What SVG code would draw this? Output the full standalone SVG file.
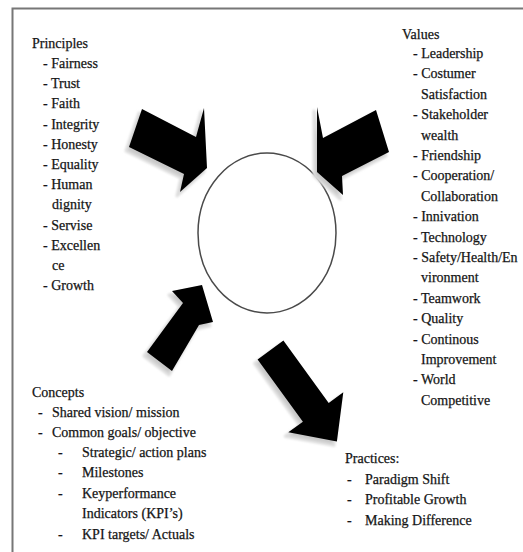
<svg xmlns="http://www.w3.org/2000/svg" width="523" height="552" viewBox="0 0 523 552">
<defs>
<style>
.t{font-family:"Liberation Serif","Times New Roman",serif;font-size:14px;fill:#151515;stroke:#151515;stroke-width:0.25}
.arrow{fill:#000}
.shadow{fill:#c9c9c9;stroke:#dedede;stroke-width:3;stroke-linejoin:round}
</style>
<filter id="soft" x="-20%" y="-20%" width="140%" height="140%"><feGaussianBlur stdDeviation="1.2"/></filter>
</defs>
<rect width="523" height="552" fill="#fff"/>
<path d="M12.5 560 V8.5 H530" fill="none" stroke="#777" stroke-width="2"/>

<g id="node-center">
<ellipse cx="267" cy="233" rx="69" ry="80" fill="#fff" stroke="#4a4a4a" stroke-width="1.5"/>
</g>

<g id="connectors">
<g id="arrow-principles">
<polygon class="shadow" filter="url(#soft)" transform="translate(-3,4)" points="142,109 196,137 204,108 207,168 180,192 184,174 129,147"/>
<polygon class="arrow" points="142,109 196,137 204,108 207,168 180,192 184,174 129,147"/>
</g>
<g id="arrow-values">
<polygon class="shadow" filter="url(#soft)" transform="translate(-3,4)" points="376,110 323,138 317,107 317,172 343,195 342,176 389,152"/>
<polygon class="arrow" points="376,110 323,138 317,107 317,172 343,195 342,176 389,152"/>
</g>
<g id="arrow-concepts">
<polygon class="shadow" filter="url(#soft)" transform="translate(-3,4)" points="147,352 183,303 172,291 202,285 213,322 199,325 172,371"/>
<polygon class="arrow" points="147,352 183,303 172,291 202,285 213,322 199,325 172,371"/>
</g>
<g id="arrow-practices">
<polygon class="shadow" filter="url(#soft)" transform="translate(-3,4)" points="283.4,340.6 328.7,402.9 343.3,392.3 336.9,441.4 288.3,432.3 302.9,421.7 257.6,359.4"/>
<polygon class="arrow" points="283.4,340.6 328.7,402.9 343.3,392.3 336.9,441.4 288.3,432.3 302.9,421.7 257.6,359.4"/>
</g>
</g>

<g id="node-principles">
<text class="t" x="32" y="48">Principles</text>
<text class="t" x="43" y="68">- Fairness</text>
<text class="t" x="43" y="88">- Trust</text>
<text class="t" x="43" y="108">- Faith</text>
<text class="t" x="43" y="129">- Integrity</text>
<text class="t" x="43" y="149">- Honesty</text>
<text class="t" x="43" y="169">- Equality</text>
<text class="t" x="43" y="189">- Human</text>
<text class="t" x="52" y="209">dignity</text>
<text class="t" x="43" y="230">- Servise</text>
<text class="t" x="43" y="250">- Excellen</text>
<text class="t" x="52" y="270">ce</text>
<text class="t" x="43" y="290">- Growth</text>
</g>

<g id="node-values">
<text class="t" x="402" y="39">Values</text>
<text class="t" x="413" y="58">- Leadership</text>
<text class="t" x="413" y="78.4">- Costumer</text>
<text class="t" x="421" y="98.8">Satisfaction</text>
<text class="t" x="413" y="119.2">- Stakeholder</text>
<text class="t" x="421" y="139.6">wealth</text>
<text class="t" x="413" y="160">- Friendship</text>
<text class="t" x="413" y="180.4">- Cooperation/</text>
<text class="t" x="421" y="200.8">Collaboration</text>
<text class="t" x="413" y="221.2">- Innivation</text>
<text class="t" x="413" y="241.6">- Technology</text>
<text class="t" x="413" y="262">- Safety/Health/En</text>
<text class="t" x="421" y="282.4">vironment</text>
<text class="t" x="413" y="302.8">- Teamwork</text>
<text class="t" x="413" y="323.2">- Quality</text>
<text class="t" x="413" y="343.6">- Continous</text>
<text class="t" x="421" y="364">Improvement</text>
<text class="t" x="413" y="384.4">- World</text>
<text class="t" x="421" y="404.8">Competitive</text>
</g>

<g id="node-concepts">
<text class="t" x="32" y="397">Concepts</text>
<text class="t" x="38" y="417">-</text><text class="t" x="52" y="417">Shared vision/ mission</text>
<text class="t" x="38" y="437">-</text><text class="t" x="52" y="437">Common goals/ objective</text>
<text class="t" x="58" y="457">-</text><text class="t" x="82" y="457">Strategic/ action plans</text>
<text class="t" x="58" y="477">-</text><text class="t" x="82" y="477">Milestones</text>
<text class="t" x="58" y="498">-</text><text class="t" x="82" y="498">Keyperformance</text>
<text class="t" x="82" y="518">Indicators (KPI’s)</text>
<text class="t" x="58" y="539">-</text><text class="t" x="82" y="539">KPI targets/ Actuals</text>
</g>

<g id="node-practices">
<text class="t" x="345" y="463">Practices:</text>
<text class="t" x="347" y="484">-</text><text class="t" x="365" y="484">Paradigm Shift</text>
<text class="t" x="347" y="504">-</text><text class="t" x="365" y="504">Profitable Growth</text>
<text class="t" x="347" y="525">-</text><text class="t" x="365" y="525">Making Difference</text>
</g>
</svg>
